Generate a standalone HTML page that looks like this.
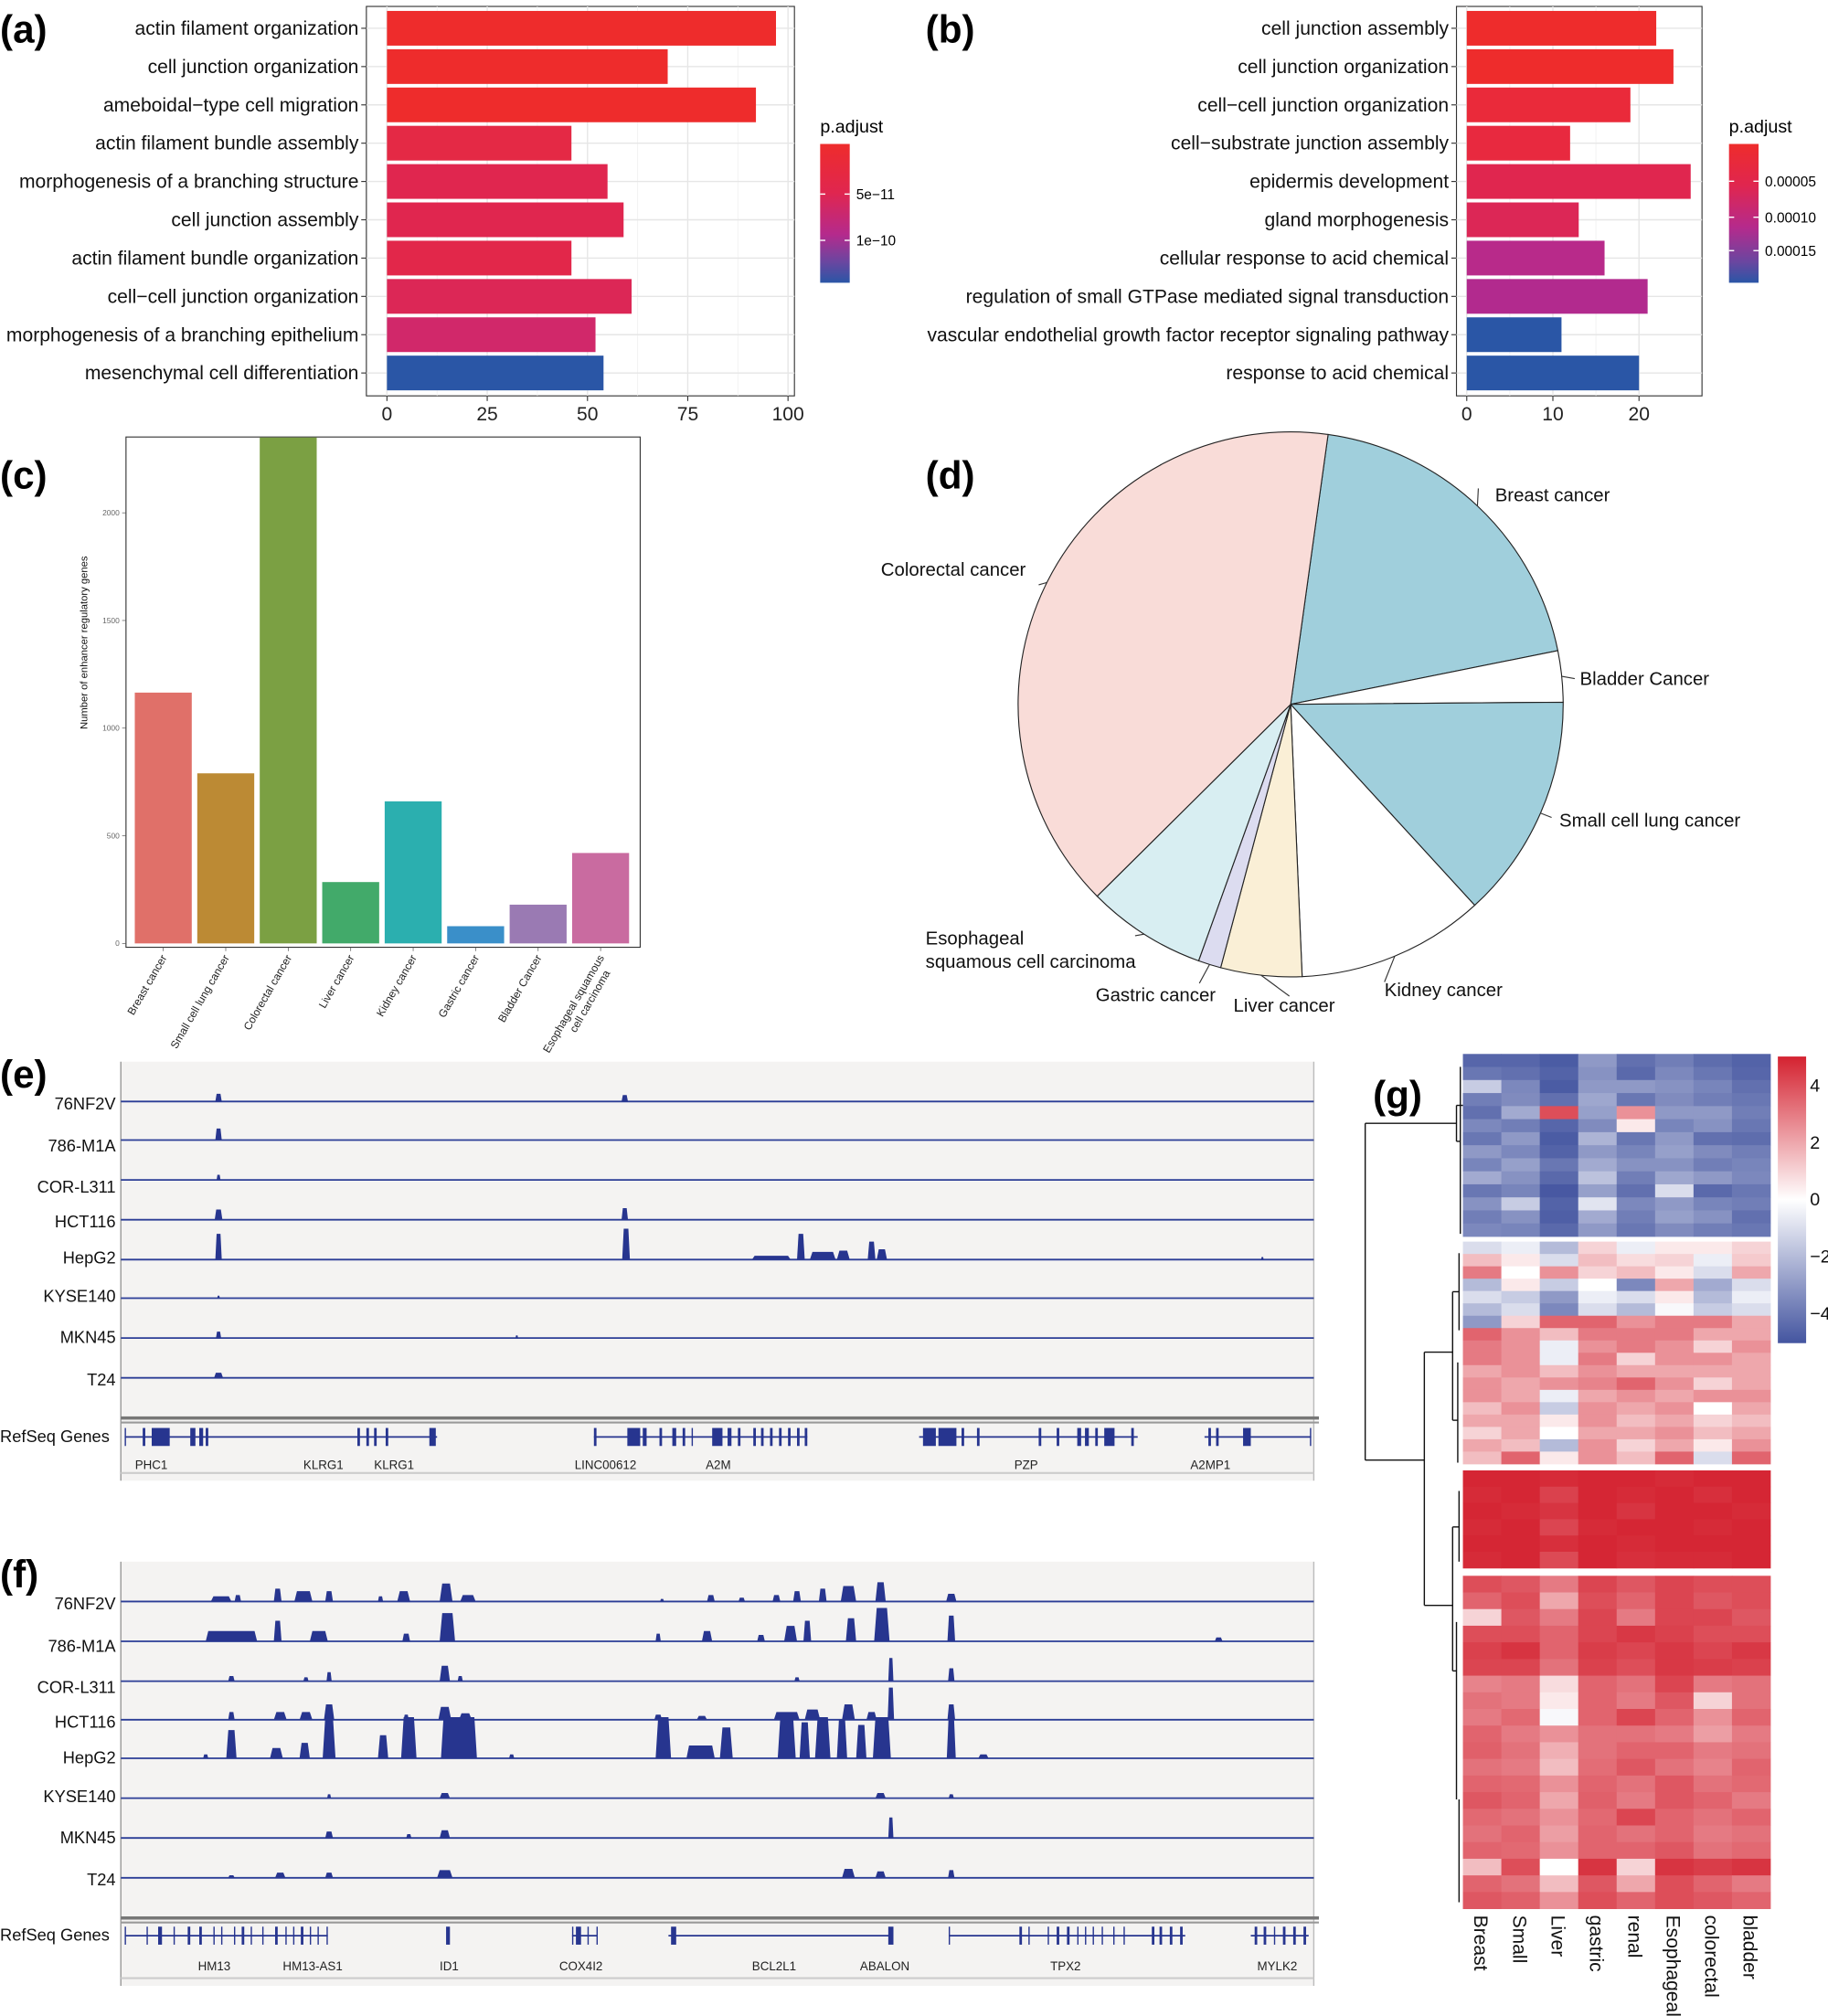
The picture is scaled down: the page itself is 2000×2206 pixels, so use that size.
<!DOCTYPE html>
<html><head><meta charset="utf-8"><style>
html,body{margin:0;padding:0;background:#fff;}
svg{display:block;font-family:"Liberation Sans",Arial,sans-serif;}
</style></head><body>
<svg id="fig" width="2000" height="2206" viewBox="0 0 1422 1568.5" xmlns="http://www.w3.org/2000/svg">
<defs>
<linearGradient id="gA" x1="0" y1="0" x2="0" y2="1"><stop offset="0" stop-color="#EE2C2C"/><stop offset="0.35" stop-color="#E0264F"/><stop offset="0.65" stop-color="#B52A8C"/><stop offset="0.85" stop-color="#6A46A0"/><stop offset="1" stop-color="#2A56A6"/></linearGradient>
<linearGradient id="gB" x1="0" y1="0" x2="0" y2="1"><stop offset="0" stop-color="#EE2C2C"/><stop offset="0.3" stop-color="#E0264F"/><stop offset="0.6" stop-color="#B52A8C"/><stop offset="0.85" stop-color="#6A46A0"/><stop offset="1" stop-color="#2A56A6"/></linearGradient>
<linearGradient id="gH" x1="0" y1="0" x2="0" y2="1"><stop offset="0" stop-color="#D42230"/><stop offset="0.5" stop-color="#FFFFFF"/><stop offset="1" stop-color="#4455A0"/></linearGradient>
</defs>
<g id="root"></g>
</svg>
<script>
// ---------- data ----------
const aCats=["actin filament organization","cell junction organization","ameboidal\u2212type cell migration","actin filament bundle assembly","morphogenesis of a branching structure","cell junction assembly","actin filament bundle organization","cell\u2212cell junction organization","morphogenesis of a branching epithelium","mesenchymal cell differentiation"];
const aVals=[97,70,92,46,55,59,46,61,52,54];
const aCols=["#EE2C2C","#EE2C2C","#EE2C2C","#E42945","#E0264F","#E0264F","#E2274A","#DC2756","#D1286A","#2A56A6"];
const aTicks=[0,25,50,75,100];
const bCats=["cell junction assembly","cell junction organization","cell\u2212cell junction organization","cell\u2212substrate junction assembly","epidermis development","gland morphogenesis","cellular response to acid chemical","regulation of small GTPase mediated signal transduction","vascular endothelial growth factor receptor signaling pathway","response to acid chemical"];
const bVals=[22,24,19,12,26,13,16,21,11,20];
const bCols=["#EE2C2C","#EE2C2C","#EA2A3A","#E8293F","#E0264F","#DC2756","#B82A8A","#B22A8E","#2A56A6","#2A56A6"];
const bTicks=[0,10,20];
const cCats=["Breast cancer","Small cell lung cancer","Colorectal cancer","Liver cancer","Kidney cancer","Gastric cancer","Bladder Cancer","Esophageal squamous|cell carcinoma"];
const cVals=[1165,790,2350,285,660,80,180,420];
const cCols=["#E07069","#BC8A34","#7BA043","#42AA6A","#2BAFAF","#3A8FC9","#9A7AB3","#C96BA0"];
const cTicks=[0,500,1000,1500,2000];
const dCats=["Breast cancer","Bladder Cancer","Small cell lung cancer","Kidney cancer","Liver cancer","Gastric cancer","Esophageal squamous cell carcinoma","Colorectal cancer"];
const dVals=[1165,180,790,660,285,80,420,2350];
const dCols=["#A0CFDC","#FFFFFF","#A0CFDC","#FFFFFF","#FAEFD6","#DCDCF0","#D8EEF2","#F9DCD8"];
const trackNames=["76NF2V","786-M1A","COR-L311","HCT116","HepG2","KYSE140","MKN45","T24"];
// peaks: [x, width, height]
const ePeaks=[
 [[170,5,6],[486,5,5]],
 [[170,5,9]],
 [[170,3,4]],
 [[170,6,8],[486,5,9]],
 [[170,5,20],[487,6,24],[600,30,3],[623,6,20],[640,20,6],[656,10,7],[678,6,14],[686,8,8],[982,2,2]],
 [[170,2,2]],
 [[170,4,5],[402,2,2]],
 [[170,7,4]]];
const fPeaks=[
 [[172,16,4],[185,5,5],[216,6,10],[236,14,8],[256,6,8],[296,4,4],[314,10,8],[347,10,14],[364,12,5],[515,3,2],[553,6,5],[577,5,3],[604,6,5],[620,6,8],[640,6,10],[660,12,12],[685,8,15],[740,8,6]],
 [[180,40,8],[216,6,16],[248,14,8],[316,6,6],[348,12,22],[512,4,6],[550,8,8],[592,6,5],[615,10,12],[628,6,16],[662,8,18],[686,12,26],[740,6,20],[948,6,3]],
 [[180,5,4],[238,4,3],[256,4,7],[346,8,12],[358,4,4],[620,4,3],[693,4,18],[740,5,10]],
 [[180,5,6],[218,10,6],[238,10,6],[256,8,12],[316,4,4],[346,10,10],[362,10,5],[512,6,4],[546,8,3],[612,20,6],[632,12,8],[660,10,12],[678,8,6],[693,5,25],[740,6,12]],
 [[160,4,3],[180,8,22],[215,10,8],[237,8,12],[256,10,32],[298,8,18],[318,12,32],[357,28,32],[398,4,3],[516,12,32],[545,22,10],[565,10,24],[612,14,32],[626,8,28],[640,12,32],[655,8,30],[670,8,26],[686,14,32],[740,7,32],[765,8,3]],
 [[256,3,3],[346,8,4],[685,8,4],[740,4,3]],
 [[256,6,5],[318,4,3],[346,8,6],[693,4,16]],
 [[180,5,2],[218,8,4],[256,6,4],[346,12,6],[660,10,7],[685,8,5],[740,5,6]]];
const eGeneLines=[[97,340],[462,628],[715,885],[937,1020]];
const eExons=[[97,1],[111,2],[118,14],[148,4],[155,3],[160,2],[278,2],[285,2],[291,2],[300,2],[334,5],[462,2],[488,10],[500,3],[513,2],[523,3],[531,2],[538,1],[554,8],[566,3],[574,2],[586,2],[592,2],[599,2],[606,2],[613,2],[620,2],[626,2],[718,10],[730,14],[748,2],[760,2],[808,2],[822,2],[838,3],[844,3],[852,2],[859,8],[880,2],[940,2],[946,2],[967,6],[1019,1]];
const eGeneNames=[["PHC1",105],["KLRG1",236],["KLRG1",291],["LINC00612",447],["A2M",549],["PZP",789],["A2MP1",926]];
const fGeneLines=[[97,255],[445,465],[520,695],[738,922],[973,1018]];
const fExons=[[97,1],[114,1],[123,3],[135,1],[146,2],[155,2],[166,1],[172,1],[182,1],[188,2],[195,1],[204,1],[214,2],[222,1],[228,1],[234,2],[241,1],[247,1],[254,1],[347,3],[445,1],[448,4],[457,1],[464,1],[522,4],[691,4],[738,1],[793,2],[800,1],[815,1],[822,2],[830,2],[838,1],[844,1],[850,1],[857,1],[866,1],[874,1],[896,2],[902,2],[910,2],[918,2],[976,2],[983,2],[991,1],[998,2],[1006,2],[1014,2]];
const fGeneNames=[["HM13",154],["HM13-AS1",220],["ID1",342],["COX4I2",435],["BCL2L1",585],["ABALON",669],["TPX2",817],["MYLK2",978]];
const hCols=["Breast","Small","Liver","gastric","renal","Esophageal","colorectal","bladder"];
const hTicks=[4,2,0,-2,-4];
const hBlock1=[
[-4.5,-4.5,-4.8,-3,-4.2,-3.8,-4.3,-4.6],[-4,-4.2,-4.6,-3.2,-4.4,-3.5,-4,-4.5],[-1.5,-3.5,-4.8,-3,-3,-3.2,-3.6,-4.2],[-3.8,-3.4,-4.2,-2.6,-4,-3.4,-3.8,-4],
[-4.2,-2.5,4,-2.8,2.5,-3,-3,-3.8],[-3.5,-3.8,-4.5,-3.4,0.5,-3.6,-3.2,-4],[-4,-3,-4.8,-2.2,-4,-3,-4.2,-4.3],[-3,-3.5,-4.6,-3,-3.6,-2.8,-3.4,-3.8],
[-3.6,-2.8,-4,-2.5,-3.2,-3.2,-3.8,-3.6],[-2.5,-3.2,-4.4,-1.8,-3.8,-2.6,-3,-3.5],[-4,-3.6,-4.9,-2.8,-4.2,-1,-4.4,-4],[-3.2,-1.5,-4.6,-0.8,-3.5,-3,-3.6,-3.8],
[-3.8,-3.2,-4.7,-2.5,-3.8,-2.8,-3.2,-4.2],[-3.5,-3.6,-4.4,-3,-4,-3.4,-3.8,-4]];
const hBlock2=[
[-1,-0.5,-2,1,-0.5,0.5,0.5,1],[1.5,0.5,-1,1.5,0.8,1,-0.5,1.2],[3,0,2.5,1,1.5,0.5,-1,2],[-2,0.5,-1.5,0,-3.5,2,-2.5,-1],
[-1,-1.5,-3,-0.5,-1,0.5,-2,-0.5],[-2,-1,-3.5,-1,-2,-0.2,-1.5,-1],[-3,1,3.5,3.5,2.5,3,3,2],[3.5,2.5,1.5,3,3,3,2,2],
[3,2.5,-0.5,2.5,3,2.5,1,2.5],[3,2.5,-0.5,3,1,2.5,2.5,2],[2,2.5,1.5,2.5,2,2,2,2],[2.5,2,2.5,2.8,3.5,2.5,1,2],
[2.5,2,-0.5,2,2.5,2,2.5,2.5],[1.5,2.5,-1.5,2.5,2,2.5,0,2],[2,2,0.5,2.5,1.5,2,1,1.5],[1,2,0,2,2,2.5,1.5,2],
[2,1.5,-2,2.5,1,2,0.5,2.5],[1.5,3.5,0.5,2.5,1.5,3.5,-1,3.5]];
const hBlock3=[
[4.9,4.9,4.8,4.9,4.9,4.8,4.9,4.9],[4.8,4.9,4.3,4.9,4.8,4.9,4.7,4.9],[4.9,4.8,4.6,4.9,4.6,4.9,4.9,4.8],
[4.8,4.9,4.2,4.8,4.9,4.9,4.8,4.9],[4.9,4.9,4.7,4.9,4.8,4.9,4.9,4.9],[4.8,4.9,4.1,4.9,4.7,4.8,4.8,4.9]];
const hBlock4=[
[4,3.8,3,4.2,3.8,4.2,4,4],[3.5,4,2,4,3.5,4.2,3.8,4],[1,3.8,3,4.2,3,4.2,4.2,3.8],[4,4,3.5,4.2,4.5,4.3,4,4],
[4.3,4.6,3.5,4.4,4.2,4.5,4.2,4.5],[4.2,4.2,3.2,4.3,4,4.5,4.4,4.3],[2.8,3,0.8,3.5,3.2,4.2,3,3.2],[3.2,3,0.5,3.5,3,3.8,1,3.2],
[3,3.4,-0.2,3.5,4.2,3.5,2.5,3.5],[3.5,3,2.5,3.2,3.2,3,2.2,3],[3.6,3.2,1.8,3.2,3.5,3.5,3,3.2],[3.2,3,1.5,3.3,3.8,3.2,2.8,3.5],
[3.5,3.4,2.5,3.5,3.2,3.8,3.2,3.4],[3.8,3.5,2,3.6,3,3.8,3.5,3],[3.4,3.2,2.5,3.4,4.2,3.5,3.2,3.5],[3.2,3.5,2.2,3.5,3.2,3.5,3,3.2],
[3.5,3.4,2.5,3.5,3.5,3.8,3.2,3.4],[1.5,4,0,4.6,1,4.6,4.4,4.6],[3.5,3.2,1.5,3.8,2,4,3.5,3],[3.8,3.6,2.5,4,3.5,4,3.8,3.5]];

// ---------- helpers ----------
const NS="http://www.w3.org/2000/svg";
const root=document.getElementById('root');
function mk(tag,attrs,parent,txt){const e=document.createElementNS(NS,tag);for(const k in attrs)e.setAttribute(k,attrs[k]);if(txt!==undefined)e.textContent=txt;(parent||root).appendChild(e);return e;}
function grp(name){const g=mk('g',{});


return g;}
function panelLabel(t,x,y,g){const e=mk('text',{x:x,y:y,'font-size':30,'font-weight':'bold'},g,t);

}

// ---------- bar panels a & b ----------
function barPanel(id,cats,vals,cols,ticks,box,x0,x1,vmax,legend){
 const g=grp('panel-'+id);
 const xs=v=>x0+(x1-x0)*v/vmax;
 const r=mk('rect',{x:box[0],y:box[1],width:box[2]-box[0],height:box[3]-box[1],fill:'#fff',stroke:'#333','stroke-width':0.8},g);
 
 
 const minor=[];for(let i=0;i<ticks.length-1;i++)minor.push((ticks[i]+ticks[i+1])/2);
 minor.forEach(t=>{if(xs(t)<box[2])mk('line',{x1:xs(t),x2:xs(t),y1:box[1],y2:box[3],stroke:'#F0F0F0','stroke-width':0.6},g);});
 ticks.forEach(t=>mk('line',{x1:xs(t),x2:xs(t),y1:box[1],y2:box[3],stroke:'#E6E6E6','stroke-width':1},g));
 const step=29.8,y0=22;
 cats.forEach((c,i)=>{const y=y0+i*step;
  mk('line',{x1:box[0],x2:box[2],y1:y,y2:y,stroke:'#E6E6E6','stroke-width':1},g);
  const b=mk('rect',{x:xs(0),y:y-13.5,width:xs(vals[i])-xs(0),height:27,fill:cols[i]},g);
  
  
  mk('line',{x1:box[0]-4,x2:box[0],y1:y,y2:y,stroke:'#333','stroke-width':0.8},g);
  const t=mk('text',{x:box[0]-6,y:y+5,'font-size':15,'text-anchor':'end',fill:'#111'},g,c);
  
  
 });
 ticks.forEach(t=>{mk('line',{x1:xs(t),x2:xs(t),y1:box[3],y2:box[3]+4,stroke:'#333','stroke-width':0.8},g);
  const e=mk('text',{x:xs(t),y:box[3]+19,'font-size':15,'text-anchor':'middle',fill:'#222'},g,String(t));
  
  });
 const lt=mk('text',{x:legend.x,y:103,'font-size':14},g,'p.adjust');
 
 
 const lb=mk('rect',{x:legend.x,y:112,width:23,height:108,fill:'url(#'+legend.grad+')'},g);
 
 
 legend.ticks.forEach(([lab,y])=>{mk('line',{x1:legend.x,x2:legend.x+4,y1:y,y2:y,stroke:'#fff'},g);mk('line',{x1:legend.x+19,x2:legend.x+23,y1:y,y2:y,stroke:'#fff'},g);
  const e=mk('text',{x:legend.x+28,y:y+4,'font-size':11},g,lab);
  
  });
}
panelLabel('(a)',0,33,root);
barPanel('a',aCats,aVals,aCols,aTicks,[285,5,618,308],301,613,100,{x:638,grad:'gA',ticks:[['5e\u221211',151],['1e\u221210',187]]});
panelLabel('(b)',720,33,root);
barPanel('b',bCats,bVals,bCols,bTicks,[1133,5,1324,308],1141,1275,20,{x:1345,grad:'gB',ticks:[['0.00005',141],['0.00010',169],['0.00015',195]]});

// ---------- panel c ----------
(function(){
 const g=grp('panel-c');
 panelLabel('(c)',0,380,g);
 const box=[98,340,498,737];const y0=734,y2000=399;
 const ys=v=>y0+(y2000-y0)*v/2000;
 const r=mk('rect',{x:box[0],y:box[1],width:box[2]-box[0],height:box[3]-box[1],fill:'#fff',stroke:'#333','stroke-width':0.8},g);
 
 
 const bw=48.7, xc=i=>127+i*48.6;
 cTicks.forEach(t=>{mk('line',{x1:box[0]-3,x2:box[0],y1:ys(t),y2:ys(t),stroke:'#555','stroke-width':0.5},g);
  const e=mk('text',{x:box[0]-5,y:ys(t)+2,'font-size':6,'text-anchor':'end',fill:'#666'},g,String(t));
  
  });
 cCats.forEach((c,i)=>{
  const b=mk('rect',{x:xc(i)-bw*0.455,y:ys(cVals[i]),width:bw*0.91,height:ys(0)-ys(cVals[i]),fill:cCols[i]},g);
  
  
  mk('line',{x1:xc(i),x2:xc(i),y1:box[3],y2:box[3]+3,stroke:'#555','stroke-width':0.5},g);
  const parts=c.split('|');
  const t=mk('text',{transform:`translate(${xc(i)+3},${box[3]+8}) rotate(-60)`,'font-size':8.5,'text-anchor':'end',fill:'#222'},g);
  
  
  parts.forEach((p,k)=>mk('tspan',{x:k?-8:0,dy:k?10:0},t,p));
 });
 const yt=mk('text',{transform:'translate(68,500) rotate(-90)','font-size':8,'text-anchor':'middle',fill:'#111'},g,'Number of enhancer regulatory genes');
 
 
})();

// ---------- panel d (pie) ----------
(function(){
 const g=grp('panel-d');
 panelLabel('(d)',720,380,g);
 const cx=1004,cy=548,R=212;const tot=dVals.reduce((a,b)=>a+b,0);
 let a=7.9*Math.PI/180;
 const pt=(ang,r)=>[cx+r*Math.sin(ang),cy-r*Math.cos(ang)];
 const labelPos=[[1163,390,'start'],[1229,533,'start'],[1213,643,'start'],[1077,775,'start'],[999,787,'middle'],[899,779,'middle'],[720,735,'start'],[798,448,'end']];
 const leaderEnd=[[1150,380],[1225,528],[1207,636],[1077,764],[1003,775],[933,765],[883,728],[808,455]];
 dVals.forEach((v,i)=>{
  const da=2*Math.PI*v/tot;const p0=pt(a,R),p1=pt(a+da,R);
  const s=mk('path',{d:`M${cx},${cy} L${p0[0]},${p0[1]} A${R},${R} 0 ${da>Math.PI?1:0} 1 ${p1[0]},${p1[1]} Z`,fill:dCols[i],stroke:'#222','stroke-width':0.8},g);
  
  
  const pm=pt(a+da/2,R);
  mk('line',{x1:pm[0],y1:pm[1],x2:leaderEnd[i][0],y2:leaderEnd[i][1],stroke:'#333','stroke-width':0.8},g);
  const lp=labelPos[i];
  const t=mk('text',{x:lp[0],y:lp[1],'font-size':14.5,'text-anchor':lp[2],fill:'#111'},g);
  
  
  if(i===6){mk('tspan',{x:lp[0],dy:0},t,'Esophageal');mk('tspan',{x:lp[0],dy:18},t,'squamous cell carcinoma');}
  else t.textContent=dCats[i];
  a+=da;
 });
})();

// ---------- genome tracks e & f ----------
function trackPanel(id,box,baselines,labelYs,peaks,sepY,geneY,nameY,lines,exons,names){
 const g=grp('panel-'+id);
 panelLabel('('+id+')',0,box[1]+20,g);
 const r=mk('rect',{x:box[0],y:box[1],width:box[2]-box[0],height:box[3]-box[1],fill:'#F4F3F2'},g);
 
 
 mk('line',{x1:box[0],x2:box[0],y1:box[1],y2:box[3],stroke:'#999','stroke-width':1},g);
 mk('line',{x1:box[2],x2:box[2],y1:box[1],y2:box[3],stroke:'#bbb','stroke-width':1},g);
 trackNames.forEach((n,i)=>{
  const b=baselines[i];
  mk('line',{x1:box[0],x2:box[2],y1:b,y2:b,stroke:'#2B3D96','stroke-width':1.3},g);
  peaks[i].forEach(p=>{const [x,w,h]=p;
   const e=mk('path',{d:`M${x-w/2},${b} L${x-w/2+Math.min(w*0.2,2)},${b-h} L${x+w/2-Math.min(w*0.2,2)},${b-h} L${x+w/2},${b} Z`,fill:'#27358F'},g);
   
   });
  const t=mk('text',{x:90,y:labelYs[i],'font-size':13,'text-anchor':'end',fill:'#111'},g,n);
  
  
 });
 mk('rect',{x:box[0],y:sepY,width:box[2]-box[0]+4,height:2.5,fill:'#777'},g);
 mk('rect',{x:box[0],y:sepY+4,width:box[2]-box[0]+4,height:1.5,fill:'#999'},g);
 const rl=mk('text',{x:0,y:geneY+4,'font-size':13,fill:'#111'},g,'RefSeq Genes');
 
 
 lines.forEach(l=>mk('line',{x1:l[0],x2:l[1],y1:geneY,y2:geneY,stroke:'#27358F','stroke-width':1.2},g));
 exons.forEach(ex=>{const e=mk('rect',{x:ex[0],y:geneY-7,width:ex[1],height:14,fill:'#27358F'},g);
  
  });
 names.forEach(n=>{const e=mk('text',{x:n[1],y:nameY,'font-size':9.5,fill:'#222'},g,n[0]);
  
  });
 mk('line',{x1:box[0],x2:box[2],y1:box[3]-6,y2:box[3]-6,stroke:'#ccc','stroke-width':1.5},g);
}
trackPanel('e',[94,826,1022,1152],[857,887,918,949,980,1010,1041,1072],[863,896,928,955,983,1013,1045,1078],ePeaks,1102,1118,1143,eGeneLines,eExons,eGeneNames);
trackPanel('f',[94,1215,1022,1545],[1246,1277,1308,1338,1368,1399,1430,1461],[1252,1285,1317,1344,1372,1402,1434,1467],fPeaks,1491,1506,1533,fGeneLines,fExons,fGeneNames);

// ---------- heatmap g ----------
(function(){
 const g=grp('panel-g');
 panelLabel('(g)',1068,862,g);
 const x0=1138,cw=29.9;
 function col(v){const t=Math.max(-1,Math.min(1,v/5));
  const lerp=(a,b,u)=>Math.round(a+(b-a)*u);
  if(t>=0)return `rgb(${lerp(255,212,t)},${lerp(255,34,t)},${lerp(255,48,t)})`;
  const u=-t;return `rgb(${lerp(255,68,u)},${lerp(255,85,u)},${lerp(255,160,u)})`;}
 const blocks=[[hBlock1,820,962],[hBlock2,966,1139],[hBlock3,1144,1220],[hBlock4,1226,1485]];
 blocks.forEach(([rows,y1,y2],bi)=>{const rh=(y2-y1)/rows.length;
  rows.forEach((row,ri)=>row.forEach((v,ci)=>{
   const c=mk('rect',{x:x0+ci*cw,y:y1+ri*rh,width:cw+0.3,height:rh+0.3,fill:col(v)},g);
   
   
  }));});
 hCols.forEach((c,i)=>{const t=mk('text',{transform:`translate(${x0+i*cw+9},1490) rotate(90)`,'font-size':15,fill:'#111'},g,c);
  
  });
 const cb=mk('rect',{x:1383,y:822,width:22,height:223,fill:'url(#gH)'},g);
 
 
 const cby=v=>933-v*22.2;
 hTicks.forEach(v=>{const e=mk('text',{x:1408,y:cby(v)+5,'font-size':14,fill:'#111'},g,v<0?'\u2212'+(-v):String(v));
  
  });
 const L=(a,b,c,d)=>mk('line',{x1:a,y1:b,x2:c,y2:d,stroke:'#111','stroke-width':1},g);
 L(1062,874,1062,1136);L(1062,874,1133,874);L(1062,1136,1108,1136);
 L(1133,860,1133,888);L(1133,860,1138,860);L(1133,888,1136,888);L(1136,830,1136,960);
 L(1108,1052,1108,1249);L(1108,1052,1130,1052);L(1130,1005,1130,1105);L(1130,1005,1135,1005);L(1130,1105,1134,1105);L(1135,975,1135,1035);L(1134,1060,1134,1138);
 L(1108,1249,1130,1249);L(1130,1188,1130,1300);L(1130,1188,1135,1188);L(1135,1160,1135,1215);L(1130,1300,1133,1300);L(1133,1262,1133,1400);L(1135,1400,1135,1480);
})();
</script>
</body></html>
